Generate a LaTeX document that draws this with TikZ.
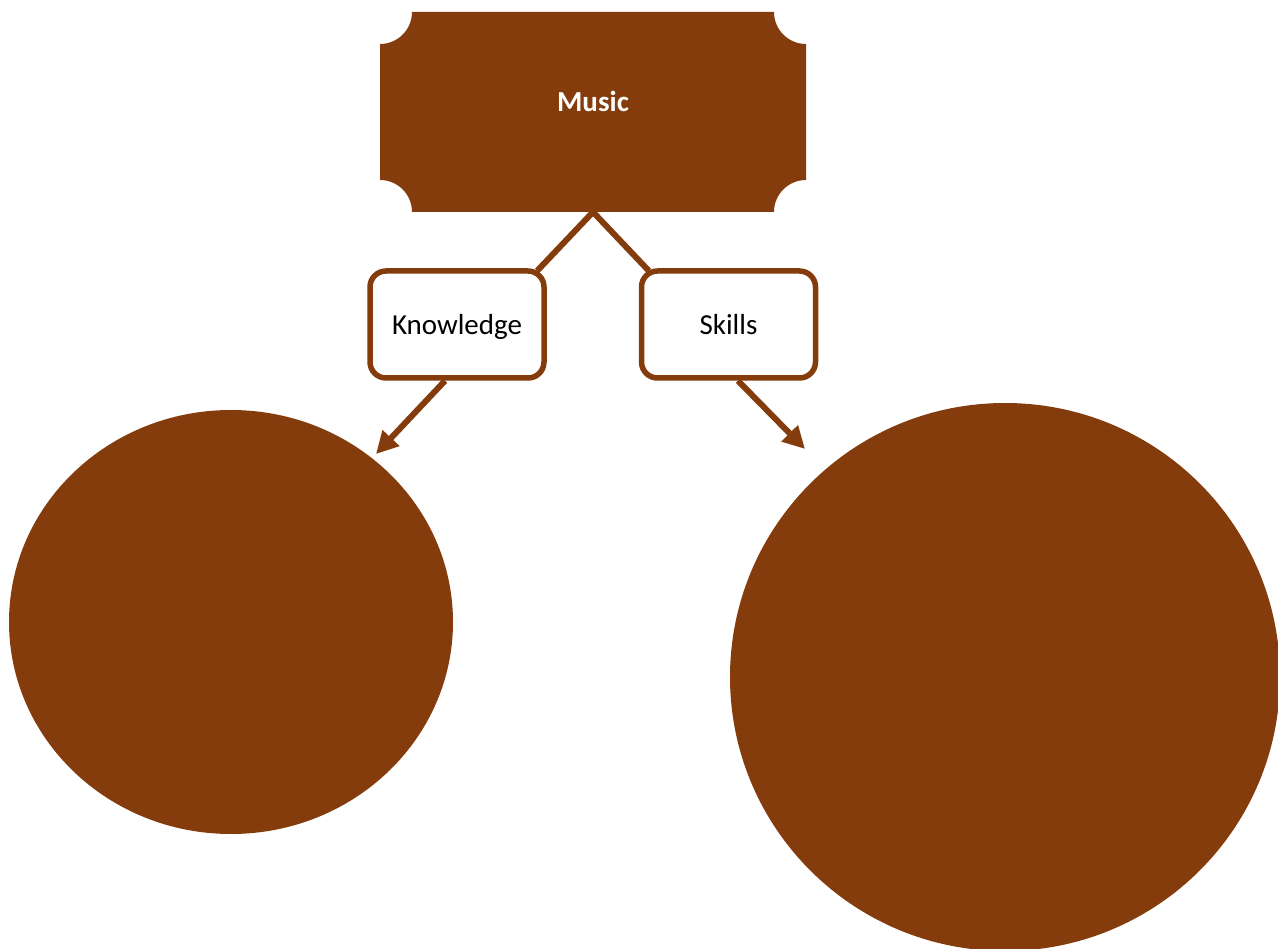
\documentclass[tikz,border=0pt]{standalone}
\usepackage{fontspec}
\setmainfont{Carlito}
\usetikzlibrary{calc,arrows.meta,shapes.geometric}
\definecolor{rust}{HTML}{843C0C}

\begin{document}
\begin{tikzpicture}[x=1pt,y=-1pt,
  topic/.style={rectangle,rounded corners=16pt,draw=rust,line width=5.5pt,fill=white,minimum width=174pt,minimum height=107pt,text height=24pt,text depth=3pt,font=\fontsize{29}{35}\selectfont},
  blob/.style={ellipse,fill=rust,inner sep=0pt},
  link/.style={draw=rust,line width=6pt}]
\useasboundingbox (0,0) rectangle (1278,949);
\node[blob,minimum width=444pt,minimum height=424pt](lblob)at(231,622){};
\node[blob,minimum width=550pt,minimum height=548pt](rblob)at(1005,677){};
\node[minimum width=426pt,minimum height=200pt,inner sep=0pt,outer sep=0pt](music)at(593,112){};
\fill[rust] (412,12) -- (774,12) arc[start angle=180,end angle=270,radius=32pt] -- (806,180)
  arc[start angle=90,end angle=180,radius=32pt] -- (412,212)
  arc[start angle=0,end angle=90,radius=32pt] -- (380,44)
  arc[start angle=270,end angle=360,radius=32pt] -- cycle;
\node[text=white,font=\fontsize{29}{35}\selectfont\bfseries](musiclabel)at(593,101){Music};
\node[topic](know)at(457,324.5){Knowledge};
\node[topic](skill)at(728.5,324.5){Skills};
\coordinate (knowtip) at (376,454);
\coordinate (skilltip) at (805,449);
\draw[link] (music.south) -- ([xshift=-9.5pt,yshift=-2.5pt]know.north east);
\draw[link] (music.south) -- ([xshift=10pt,yshift=-2.5pt]skill.north west);
\draw[link,-{Triangle[length=22pt,width=22pt]}] ([xshift=-12pt]know.south) -- (knowtip);
\draw[link,-{Triangle[length=22pt,width=22pt]}] ([xshift=9.5pt]skill.south) -- (skilltip);
\end{tikzpicture}
\end{document}
